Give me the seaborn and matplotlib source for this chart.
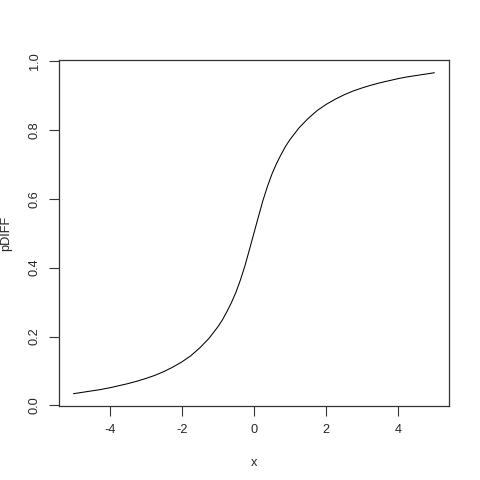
import numpy as np
import pandas as pd
import seaborn as sns
from matplotlib import pyplot as plt

# values (symmetric around x=0)
x_pos = [0.0, 0.125, 0.25, 0.375, 0.5, 0.625, 0.75, 0.875, 1.0, 1.25, 1.5, 1.75, 2.0,
         2.25, 2.5, 2.75, 3.0, 3.25, 3.5, 3.75, 4.0, 4.25, 4.5, 4.75, 5.0]
p_pos = [0.5, 0.548, 0.595, 0.636, 0.672, 0.702, 0.728, 0.752, 0.772, 0.806, 0.833, 0.856, 0.874,
         0.889, 0.902, 0.913, 0.922, 0.930, 0.937, 0.943, 0.949, 0.954, 0.958, 0.962, 0.966]

x_vals = [-v for v in x_pos[:0:-1]] + x_pos
p_vals = [round(1 - v, 3) for v in p_pos[:0:-1]] + p_pos
df = pd.DataFrame({'x': x_vals, 'pDIFF': p_vals})

sns.set_style('white')
plt.rcParams['font.family'] = ['Liberation Sans', 'DejaVu Sans']

fig = plt.figure(figsize=(4.8, 4.8), dpi=100)
ax = fig.add_axes([0.123, 0.154, 0.812, 0.721])
sns.lineplot(data=df, x='x', y='pDIFF', color='black', linewidth=0.75, ax=ax)

ax.set_xlim(-5.4, 5.4)
ax.set_ylim(-0.002, 1.003)
ax.set_xticks([-4, -2, 0, 2, 4])
ax.set_xticklabels(['-4', '-2', '0', '2', '4'])
ax.set_yticks([0.0, 0.2, 0.4, 0.6, 0.8, 1.0])
ax.set_yticklabels(['0.0', '0.2', '0.4', '0.6', '0.8', '1.0'], rotation=90, va='center')
ax.tick_params(axis='both', direction='out', length=7, width=0.8, color='#333333',
               labelsize=9.2, pad=6, bottom=True, left=True)
for s in ax.spines.values():
    s.set_color('#333333')
    s.set_linewidth(0.9)
ax.set_xlabel('x', fontsize=9.2, labelpad=15)
ax.set_ylabel('pDIFF', fontsize=9.2, labelpad=12)

fig.savefig('out.png', dpi=100)
